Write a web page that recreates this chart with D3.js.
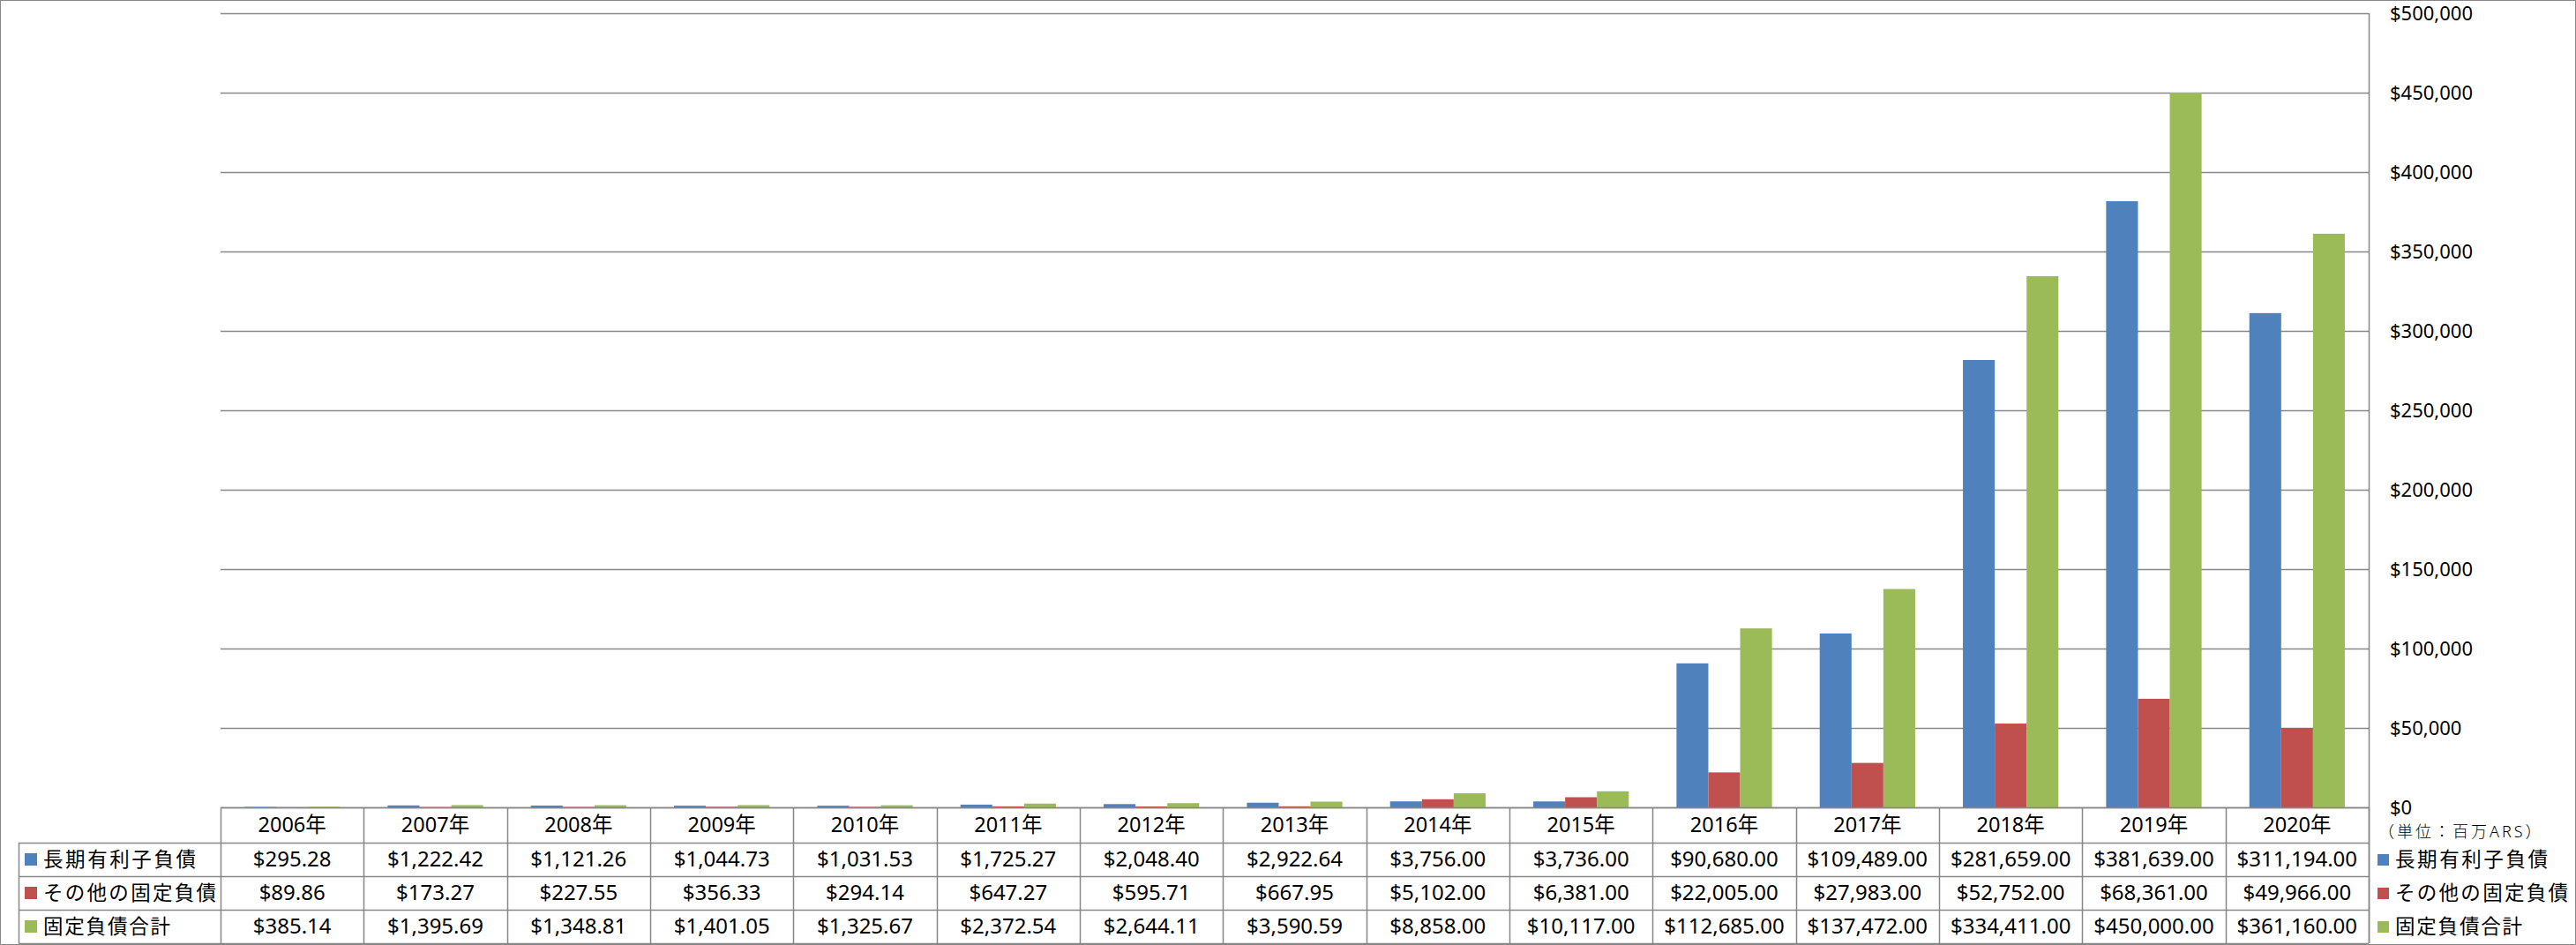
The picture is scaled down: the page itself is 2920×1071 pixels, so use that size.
<!DOCTYPE html>
<html>
<head>
<meta charset="utf-8">
<script src="https://cdn.jsdelivr.net/npm/d3@7"></script>
<style>
  html, body { margin: 0; padding: 0; background: #fff; }
  svg { display: block; }
  text { font-family: "Noto Sans", "Noto Sans CJK JP", sans-serif; fill: #000; }
</style>
</head>
<body>
<svg id="chart" width="2920" height="1071"></svg>
<script>
// ---- data ----
const categories = ["2006年","2007年","2008年","2009年","2010年","2011年","2012年","2013年","2014年","2015年","2016年","2017年","2018年","2019年","2020年"];
const seriesNames = ["長期有利子負債","その他の固定負債","固定負債合計"];
const longTermDebt = [295.28,1222.42,1121.26,1044.73,1031.53,1725.27,2048.40,2922.64,3756.00,3736.00,90680.00,109489.00,281659.00,381639.00,311194.00];
const otherFixed = [89.86,173.27,227.55,356.33,294.14,647.27,595.71,667.95,5102.00,6381.00,22005.00,27983.00,52752.00,68361.00,49966.00];
const totalFixed = [385.14,1395.69,1348.81,1401.05,1325.67,2372.54,2644.11,3590.59,8858.00,10117.00,112685.00,137472.00,334411.00,450000.00,361160.00];
const yTicks = [0,50000,100000,150000,200000,250000,300000,350000,400000,450000,500000];
const unitLabel = "（単位：百万ARS）";

const seriesValues = [longTermDebt, otherFixed, totalFixed];
const colors = ["#4F81BD","#C0504D","#9BBB59"];
const gridColor = "#878787";

const svg = d3.select("#chart");
const W = 2920, H = 1071;
const plotL = 250, plotR = 2685, plotT = 15, plotB = 915;
const rowH = [40, 38, 38, 38];

// outer border
svg.append("rect").attr("x",0.5).attr("y",0.5).attr("width",W-1).attr("height",H-1)
  .attr("fill","none").attr("stroke",gridColor).attr("stroke-width",1);

const x = d3.scaleBand().domain(categories).range([plotL, plotR]).padding(0);
const bw = x.bandwidth() / 4.5;
const xs = d3.scaleBand().domain(d3.range(3))
  .range([(x.bandwidth() - 3*bw)/2, (x.bandwidth() + 3*bw)/2]).padding(0);
const y = d3.scaleLinear().domain([0, 500000]).range([plotB, plotT]);

// gridlines
svg.append("g").selectAll("line").data(yTicks).join("line")
  .attr("x1", plotL).attr("x2", plotR)
  .attr("y1", d => Math.round(y(d)) + 0.5).attr("y2", d => Math.round(y(d)) + 0.5)
  .attr("stroke", gridColor).attr("stroke-width", 1.5);

// right axis tick labels
const yAxis = d3.axisRight(y).tickValues(yTicks).tickSize(0).tickPadding(24)
  .tickFormat(d => "$" + d3.format(",")(d));
const ya = svg.append("g").attr("transform", `translate(${plotR},0)`).call(yAxis);
ya.select(".domain").remove();
ya.selectAll("text").attr("font-size", 22).attr("fill", "#000")
  .attr("font-family", '"Noto Sans", sans-serif');

// bars
seriesValues.forEach((vals, si) => {
  svg.append("g").selectAll("rect").data(vals).join("rect")
    .attr("x", (d, i) => x(categories[i]) + xs(si))
    .attr("width", xs.bandwidth())
    .attr("y", d => y(d))
    .attr("height", d => Math.max(0, y(0) - y(d)))
    .attr("fill", colors[si]);
});

// ---- data table ----
const tbl = svg.append("g");
const tableLeft = 21;
const rowsY = [plotB];
rowH.forEach(h => rowsY.push(rowsY[rowsY.length-1] + h));

tbl.append("line").attr("x1", plotL).attr("x2", plotR).attr("y1", rowsY[0]+0.5).attr("y2", rowsY[0]+0.5)
  .attr("stroke", gridColor).attr("stroke-width", 1.5);
for (let r = 1; r < rowsY.length; r++) {
  tbl.append("line").attr("x1", tableLeft).attr("x2", plotR)
    .attr("y1", rowsY[r]+0.5).attr("y2", rowsY[r]+0.5)
    .attr("stroke", gridColor).attr("stroke-width", 1.5);
}
const colEdges = categories.map(c => x(c)).concat([plotR]);
tbl.selectAll("line.v").data(colEdges).join("line").attr("class","v")
  .attr("x1", d => Math.round(d)+0.5).attr("x2", d => Math.round(d)+0.5)
  .attr("y1", rowsY[0]).attr("y2", rowsY[4])
  .attr("stroke", gridColor).attr("stroke-width", 1.5);
tbl.append("line").attr("x1", tableLeft+0.5).attr("x2", tableLeft+0.5)
  .attr("y1", rowsY[1]).attr("y2", rowsY[4]).attr("stroke", gridColor).attr("stroke-width", 1.5);
svg.append("line").attr("x1", plotR+0.5).attr("x2", plotR+0.5).attr("y1", plotT).attr("y2", rowsY[4])
  .attr("stroke", gridColor).attr("stroke-width", 1.5);

// header text
tbl.append("g").selectAll("text").data(categories).join("text")
  .attr("x", d => x(d) + x.bandwidth()/2)
  .attr("y", (rowsY[0] + rowsY[1]) / 2)
  .attr("dy", "0.35em").attr("text-anchor", "middle").attr("font-size", 23.5)
  .text(d => d);

const fmt = d => "$" + d3.format(",.2f")(d);
const labelLens = [173, 196, 144];
seriesValues.forEach((vals, si) => {
  const cy = (rowsY[si+1] + rowsY[si+2]) / 2;
  tbl.append("g").selectAll("text").data(vals).join("text")
    .attr("x", (d, i) => x(categories[i]) + x.bandwidth()/2)
    .attr("y", cy).attr("dy", "0.35em").attr("text-anchor", "middle").attr("font-size", 24)
    .text(fmt);
  tbl.append("rect").attr("x", 28).attr("y", cy - 7).attr("width", 14).attr("height", 14).attr("fill", colors[si]);
  tbl.append("text").attr("x", 49).attr("y", cy).attr("dy", "0.36em")
    .attr("font-size", 22.5)
    .attr("textLength", labelLens[si]).attr("lengthAdjust", "spacing")
    .attr("font-family", '"Noto Sans CJK JP", sans-serif')
    .text(seriesNames[si]);
  svg.append("rect").attr("x", 2695).attr("y", cy - 6).attr("width", 13).attr("height", 13).attr("fill", colors[si]);
  svg.append("text").attr("x", 2715).attr("y", cy).attr("dy", "0.36em")
    .attr("font-size", 22.5)
    .attr("textLength", labelLens[si]).attr("lengthAdjust", "spacing")
    .attr("font-family", '"Noto Sans CJK JP", sans-serif')
    .text(seriesNames[si]);
});

// unit label
svg.append("text").attr("x", 2696).attr("y", 943).attr("dy", "0.36em")
  .attr("font-size", 18).attr("letter-spacing", "3px")
  .attr("font-family", '"Noto Sans CJK JP", sans-serif').attr("font-weight", 300)
  .text(unitLabel);
</script>
</body>
</html>
